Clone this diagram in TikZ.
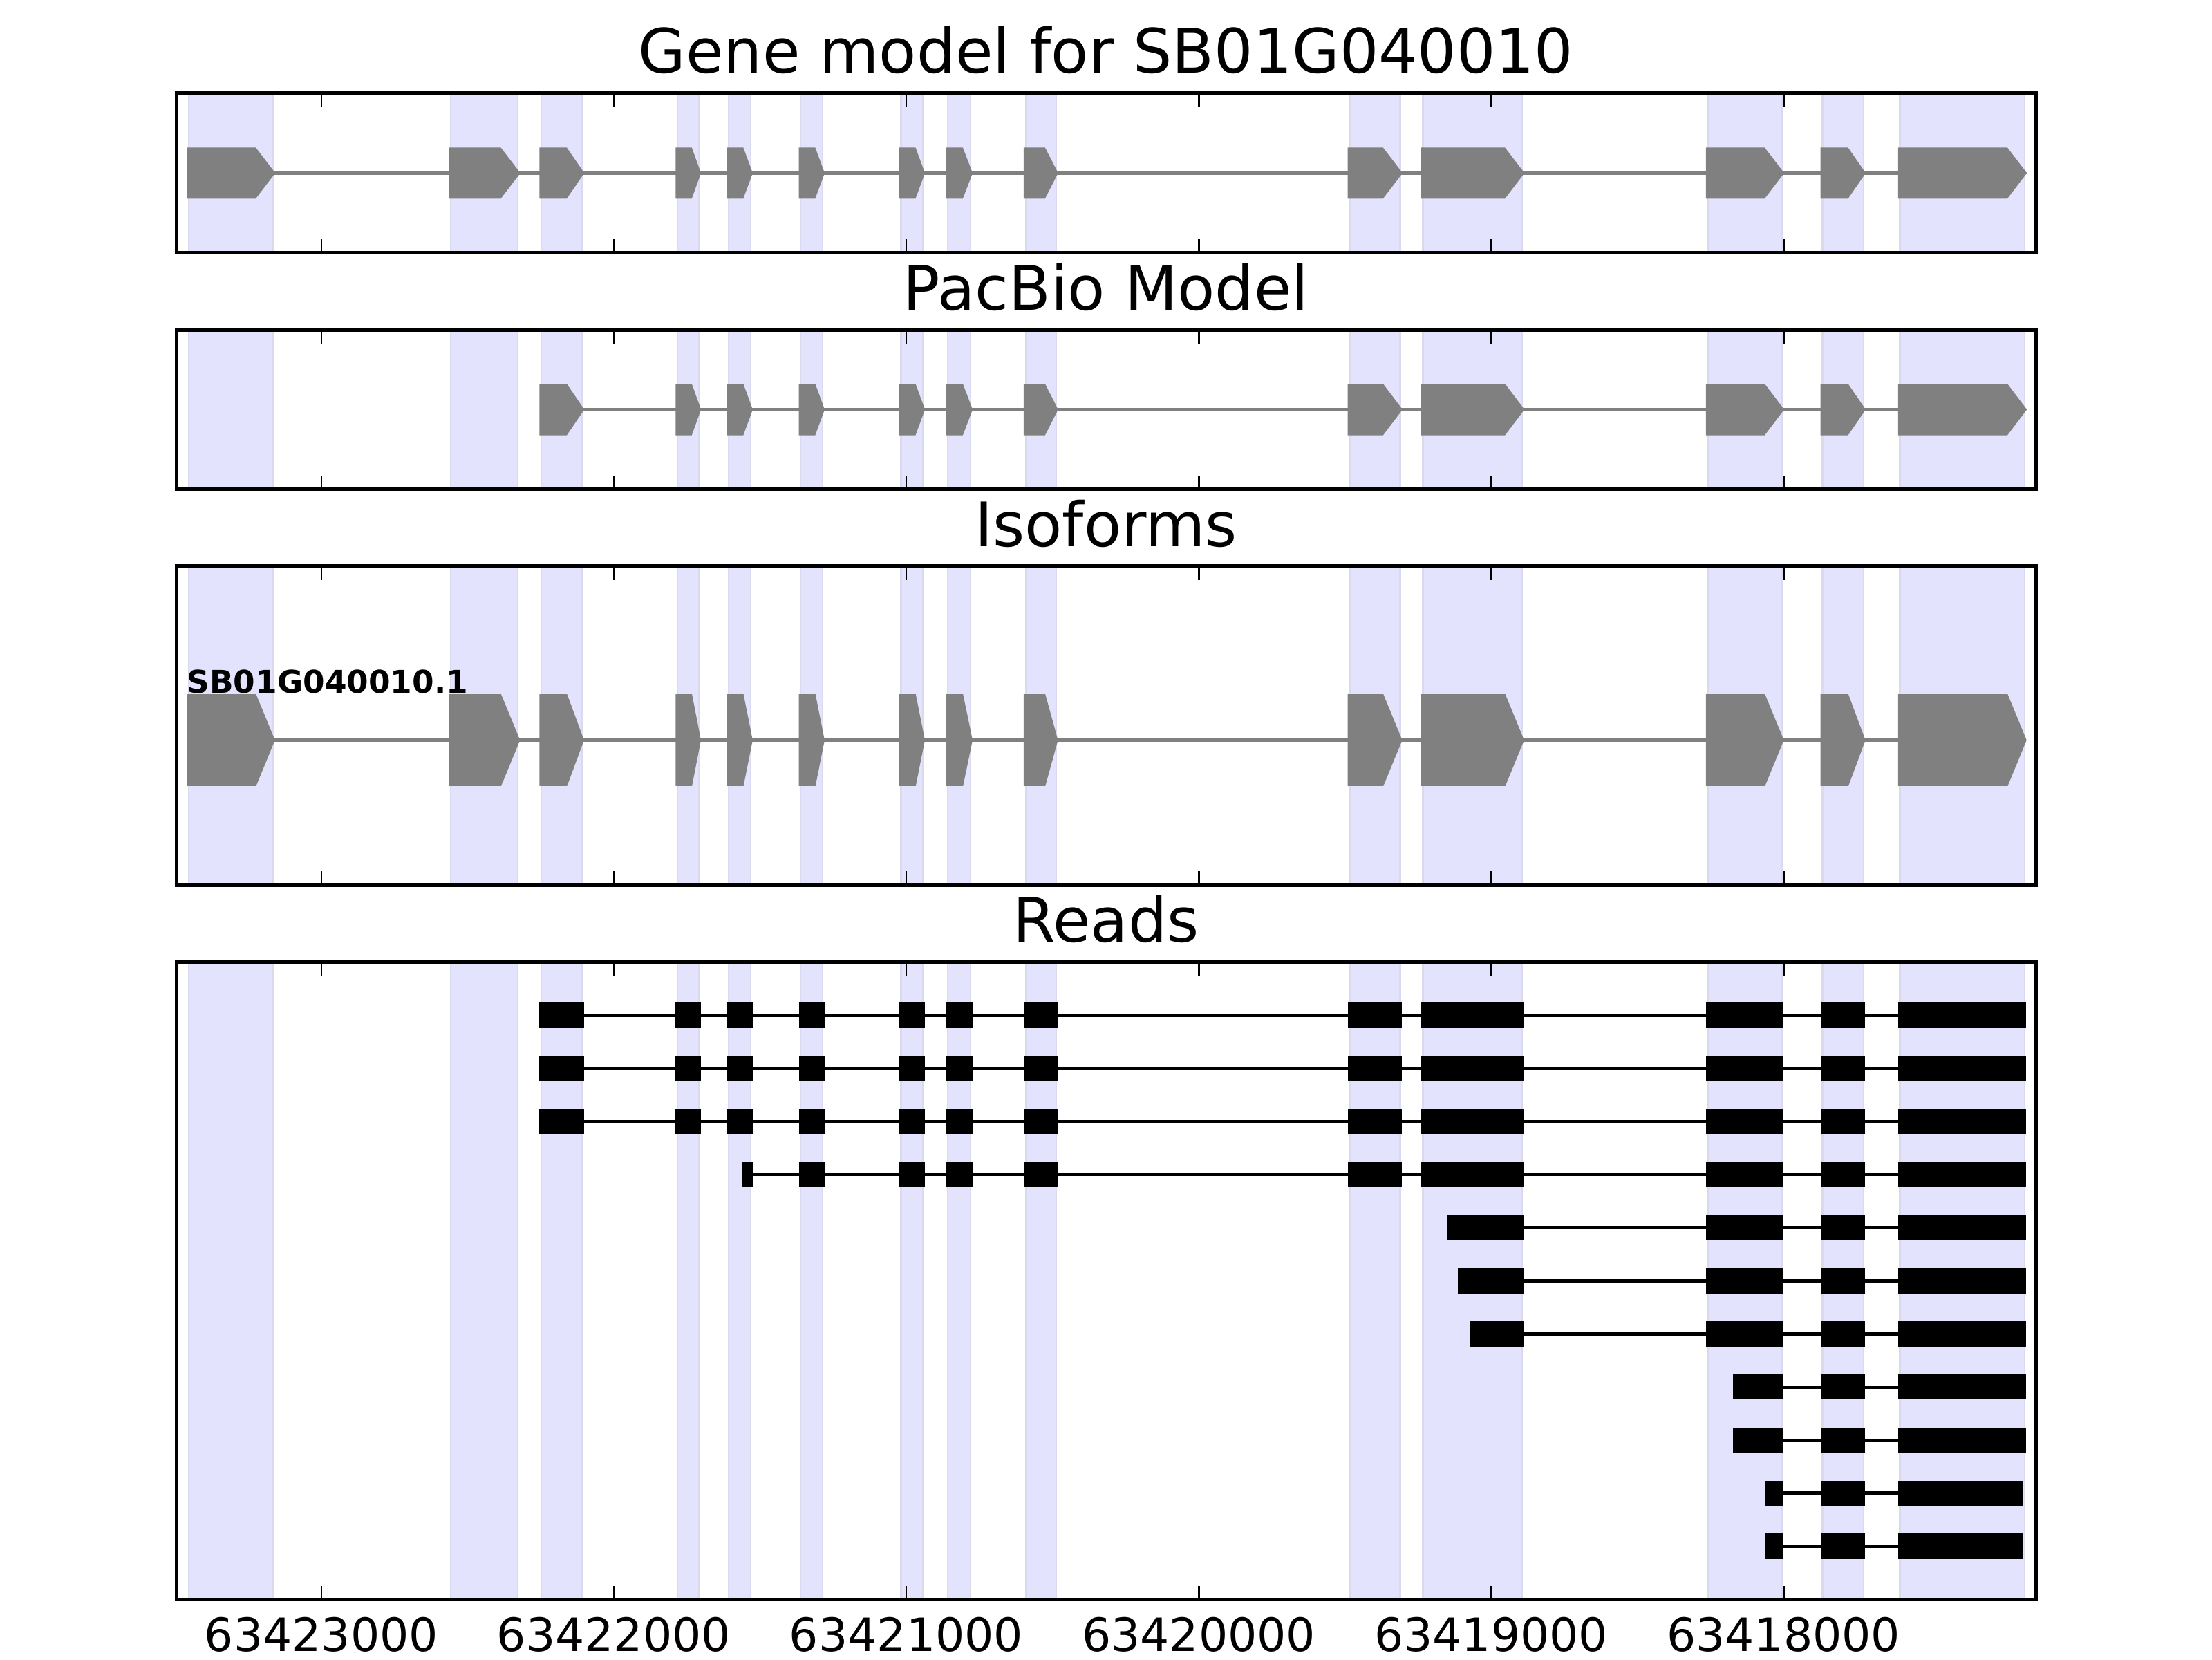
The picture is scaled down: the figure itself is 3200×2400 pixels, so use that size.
\documentclass[tikz,border=0pt]{standalone}
\usepackage{fontspec}
\setmainfont{DejaVu Sans}
\usetikzlibrary{calc}
\definecolor{bandfill}{RGB}{227,227,253}
\definecolor{bandedge}{RGB}{218,218,238}
\definecolor{genegray}{RGB}{128,128,128}
\tikzset{exonband/.style={fill=bandfill, draw=bandedge, line width=0.4pt}}
\tikzset{genebox/.style={fill=genegray, draw=genegray, line width=1pt, line join=miter}}
\tikzset{intron/.style={draw=genegray, line width=1pt}}
\tikzset{readbox/.style={fill=black, draw=black, line width=1pt}}
\tikzset{readline/.style={draw=black, line width=0.85pt}}
\tikzset{panelframe/.style={draw=black, line width=1pt}}
\tikzset{tickmark/.style={draw=black, line width=0.5pt}}
\tikzset{paneltitle/.style={font=\fontsize{16}{19}\selectfont, anchor=base, inner sep=0}}
\tikzset{ticklabel/.style={font=\fontsize{12}{14}\selectfont, anchor=base, inner sep=0}}
\tikzset{isolabel/.style={font=\fontsize{8.2}{10}\selectfont\bfseries, anchor=base west, inner sep=0}}
% exon: start, end, centre line, half height
\newcommand{\genexon}[4]{%
  \pgfmathsetmacro{\tiplen}{min(0.4*(#2-#1),62)}
  \draw[genebox] (#1,#3-#4) -- ({#2-\tiplen},#3-#4) -- (#2,#3) -- ({#2-\tiplen},#3+#4) -- (#1,#3+#4) -- cycle;}
\def\exonbands{-454/-166,442/672,752/891,1218/1291,1393/1468,1639/1714,1982/2057,2142/2220,2408/2512,3516/3689,3767/4106,4741/4994,5133/5273,5398/5824}
\def\pacbioexons{752/891,1218/1291,1393/1468,1639/1714,1982/2057,2142/2220,2408/2512,3516/3689,3767/4106,4741/4994,5133/5273,5398/5824}

\begin{document}
\begin{tikzpicture}[x=0.00635cm, y=-0.00635cm]
\useasboundingbox (0,0) rectangle (3200,2400);
\begin{scope}[shift={(465,0)}, x=0.0026854cm]
  % shaded exons, all panels
  \foreach \top/\bot in {135/365.5, 477/707.5, 819/1280, 1391.5/2313.5} {
    \foreach \a/\b in \exonbands {
      \draw[exonband] (\a,\top) rectangle (\b,\bot);
    }
  }

  % gene model
  \draw[intron] (-454,250.3) -- (5824,250.3);
  \foreach \a/\b in \exonbands {\genexon{\a}{\b}{250.3}{34.2}}

  % pacbio model
  \draw[intron] (752,592.3) -- (5824,592.3);
  \foreach \a/\b in \pacbioexons {\genexon{\a}{\b}{592.3}{34.5}}

  % isoforms
  \draw[intron] (-454,1070.3) -- (5824,1070.3);
  \foreach \a/\b in \exonbands {\genexon{\a}{\b}{1070.5}{63.7}}
  \node[isolabel] (iso1) at (-462,1002) {SB01G040010.1};

  % reads
  \foreach \r/\s/\e/\ex in {
      1/752/5822/{752/891,1218/1291,1393/1468,1639/1714,1982/2057,2142/2220,2408/2512,3516/3689,3767/4106,4741/4994,5133/5273,5398/5822},
      2/752/5822/{752/891,1218/1291,1393/1468,1639/1714,1982/2057,2142/2220,2408/2512,3516/3689,3767/4106,4741/4994,5133/5273,5398/5822},
      3/752/5822/{752/891,1218/1291,1393/1468,1639/1714,1982/2057,2142/2220,2408/2512,3516/3689,3767/4106,4741/4994,5133/5273,5398/5822},
      4/1444/5822/{1444/1468,1639/1714,1982/2057,2142/2220,2408/2512,3516/3689,3767/4106,4741/4994,5133/5273,5398/5822},
      5/3855/5822/{3855/4106,4741/4994,5133/5273,5398/5822},
      6/3893/5822/{3893/4106,4741/4994,5133/5273,5398/5822},
      7/3933/5822/{3933/4106,4741/4994,5133/5273,5398/5822},
      8/4833/5822/{4833/4994,5133/5273,5398/5822},
      9/4833/5822/{4833/4994,5133/5273,5398/5822},
      10/4944/5812/{4944/4994,5133/5273,5398/5812},
      11/4944/5812/{4944/4994,5133/5273,5398/5812}} {
    \pgfmathsetmacro{\yr}{1391.5+76.83*\r}
    \draw[readline] (\s,\yr) -- (\e,\yr);
    \foreach \a/\b in \ex {\draw[readbox] (\a,\yr-15.5) rectangle (\b,\yr+15.5);}
  }

  % frames and ticks
  \foreach \top/\bot in {135/365.5, 477/707.5, 819/1280, 1391.5/2313.5} {
    \draw[panelframe] (-495.4,\top) rectangle (5861.9,\bot);
    \foreach \t in {0,1000,2000,3000,4000,5000} {
      \draw[tickmark] (\t,\top) -- ++(0,20);
      \draw[tickmark] (\t,\bot) -- ++(0,-20);
    }
  }

  \node[paneltitle] (title-gene) at (2683,105) {Gene model for SB01G040010};
  \node[paneltitle] (title-pacbio) at (2683,448) {PacBio Model};
  \node[paneltitle] (title-iso) at (2683,790) {Isoforms};
  \node[paneltitle] (title-reads) at (2683,1362.5) {Reads};

  \foreach \t/\lab in {0/63423000, 1000/63422000, 2000/63421000, 3000/63420000, 4000/63419000, 5000/63418000}
    \node[ticklabel] (tick\t) at (\t,2388) {\lab};
\end{scope}
\end{tikzpicture}
\end{document}
